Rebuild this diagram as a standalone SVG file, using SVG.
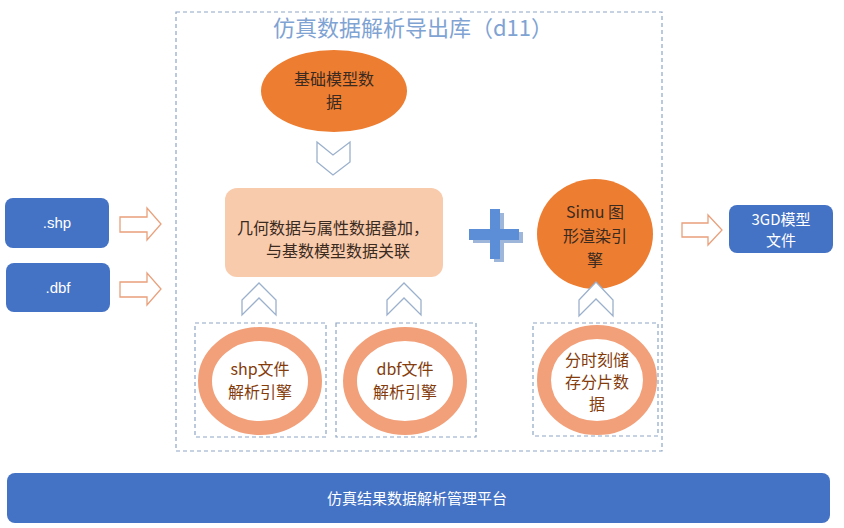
<svg xmlns="http://www.w3.org/2000/svg" width="844" height="528" viewBox="0 0 844 528">
<style>
.cjk{font-family:"Noto Sans CJK SC","Liberation Sans",sans-serif}
.blue{fill:#4472C4}
.wt{fill:#ffffff;font-size:15px;text-anchor:middle}
.dk{fill:#3a2a20;font-size:16px;text-anchor:middle}
.br{fill:#843C0C;font-size:16px;text-anchor:middle}
.dash{fill:none;stroke:#8EA6C4;stroke-width:1.2;stroke-dasharray:4 3}
.arr{fill:#ffffff;stroke:#E9A07C;stroke-width:1.3}
.chev{fill:#ffffff;stroke:#9BB0CC;stroke-width:1.3}
.ring{fill:#ffffff;stroke:#F2A07A;stroke-width:14}
</style>
<rect width="844" height="528" fill="#ffffff"/>
<g id="dll">
<rect x="176" y="12" width="486" height="439" class="dash"/>
<text x="413" y="36" class="cjk" font-size="22" fill="#7FA3D3" text-anchor="middle">仿真数据解析导出库（d11）</text>
</g>
<g id="base-model">
<ellipse cx="334" cy="91" rx="73" ry="41" fill="#ED7D31"/>
<text class="cjk dk" x="334" y="85">基础模型数</text>
<text class="cjk dk" x="334" y="108">据</text>
</g>
<g id="merge">
<rect x="225" y="188" width="218" height="89" rx="12" fill="#F8CBAD"/>
<text class="cjk dk" x="333" y="234">几何数据与属性数据叠加，</text>
<text class="cjk dk" x="338" y="257">与基数模型数据关联</text>
</g>
<g id="plus">
<path d="M492,211 h10 v19 h19 v11 h-19 v19 h-10 v-19 h-21 v-11 h21 z" fill="#3E6DB5" opacity="0.5" transform="translate(2,2)"/>
<path d="M490,209 h10 v20 h19 v11 h-19 v19 h-10 v-19 h-21 v-11 h21 z" fill="#5B8ED6"/>
</g>
<g id="simu">
<ellipse cx="595" cy="234" rx="58" ry="55" fill="#ED7D31"/>
<text class="cjk dk" x="595" y="218">Simu 图</text>
<text class="cjk dk" x="595" y="242">形渲染引</text>
<text class="cjk dk" x="595" y="266">擎</text>
</g>
<g id="shp">
<rect x="5" y="198" width="104" height="50" rx="8" class="blue"/>
<text class="wt" x="57" y="228" font-family="Liberation Sans,sans-serif">.shp</text>
</g>
<g id="dbf">
<rect x="6" y="263" width="104" height="49" rx="8" class="blue"/>
<text class="wt" x="58" y="293" font-family="Liberation Sans,sans-serif">.dbf</text>
</g>
<g id="out3gd">
<rect x="729" y="205" width="104" height="48" rx="8" class="blue"/>
<text class="cjk wt" x="781" y="225">3GD模型</text>
<text class="cjk wt" x="781" y="246">文件</text>
</g>
<g id="shp-engine">
<rect x="195" y="323" width="131" height="114" class="dash"/>
<ellipse cx="260" cy="381" rx="55" ry="47" class="ring"/>
<text class="cjk br" x="260" y="375">shp文件</text>
<text class="cjk br" x="260" y="398">解析引擎</text>
</g>
<g id="dbf-engine">
<rect x="336" y="323" width="140" height="114" class="dash"/>
<ellipse cx="405" cy="381" rx="55" ry="47" class="ring"/>
<text class="cjk br" x="405" y="375">dbf文件</text>
<text class="cjk br" x="405" y="398">解析引擎</text>
</g>
<g id="slice">
<rect x="533" y="323" width="125" height="113" class="dash"/>
<ellipse cx="597" cy="380" rx="53" ry="48" class="ring"/>
<text class="cjk br" x="597" y="366">分时刻储</text>
<text class="cjk br" x="597" y="388">存分片数</text>
<text class="cjk br" x="597" y="410">据</text>
</g>
<g id="platform">
<rect x="7" y="473" width="823" height="50" rx="8" class="blue"/>
<text class="cjk wt" x="417" y="504" font-size="17">仿真结果数据解析管理平台</text>
</g>
<g id="connectors">
<path class="arr" d="M120,217 H147 V208 L161,224 L147,240 V232 H120 Z"/>
<path class="arr" d="M120,282 H147 V273 L161,289 L147,305 V297 H120 Z"/>
<path class="arr" d="M682,223 H708 V215 L722,230 L708,245 V237 H682 Z"/>
<path class="chev" d="M317,142 L333,155 L350,142 V162 L333,175 L317,162 Z"/>
<path class="chev" d="M242,315 V300 L259,283 L276,300 V315 L259,298 Z"/>
<path class="chev" d="M387,315 V300 L404,283 L421,300 V315 L404,298 Z"/>
<path class="chev" d="M579,316 V300 L596,282 L613,300 V316 L596,299 Z"/>
</g>
</svg>
